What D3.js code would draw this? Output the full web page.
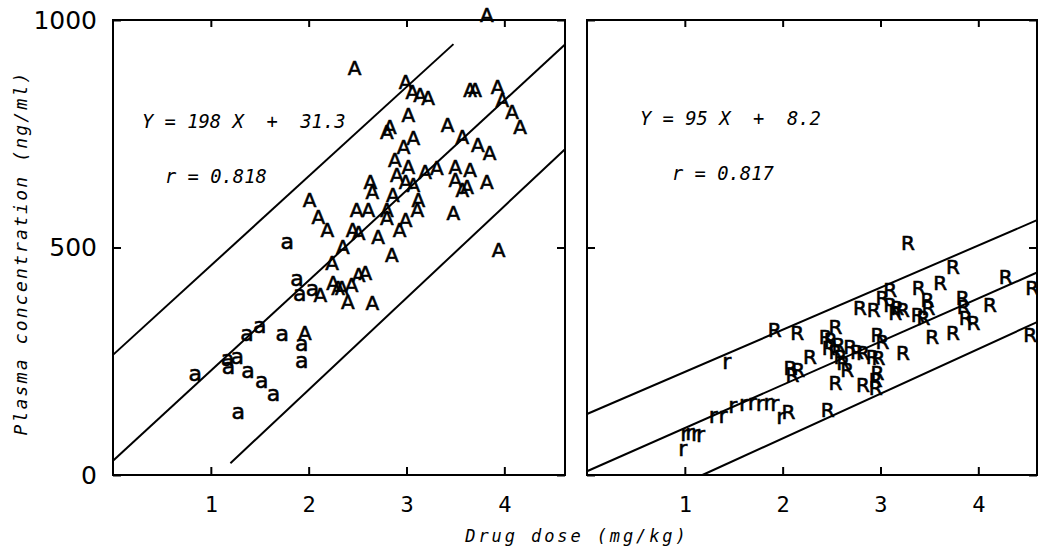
<!DOCTYPE html>
<html lang="en">
<head>
<meta charset="UTF-8">
<title>Plasma concentration vs drug dose</title>
<style>
    body { margin: 0; background: #fff; }
    svg { display: block; }
    .frame { fill: none; stroke: #000; stroke-width: 2; }
    .fit { fill: none; stroke: #000; stroke-width: 2; }
    .tick line { stroke: #000; stroke-width: 2; }
    .mono { font-family: "DejaVu Sans Mono", monospace; font-style: oblique; white-space: pre; }
    .mark { font-family: "DejaVu Sans", sans-serif; text-anchor: middle; stroke: #000; stroke-width: 0.6; }
</style>
</head>
<body>
<script src="https://d3js.org/d3.v7.min.js"></script>
<script>
    // ticks
    const xTicks = [1, 2, 3, 4];
    const yTicks = [0, 500, 1000];

    // left panel: upper case = A, lower case = a  [dose, concentration]
    const leftA = [
        [3.82, 1012], [2.47, 895], [2.99, 864], [3.06, 842], [3.14, 835], [3.22, 829],
        [3.65, 846], [3.70, 846], [3.93, 853], [3.98, 824], [4.08, 798], [4.16, 765],
        [3.02, 791], [3.42, 769], [2.83, 765], [2.80, 754], [3.07, 741], [2.97, 721],
        [3.57, 743], [3.73, 725], [3.85, 708], [2.88, 692], [3.02, 677], [2.90, 659],
        [2.99, 644], [3.07, 637], [3.19, 666], [3.31, 675], [3.50, 677], [3.65, 670],
        [3.50, 648], [3.57, 626], [3.62, 633], [3.82, 644], [2.63, 644], [2.65, 622],
        [2.49, 582], [2.61, 582], [2.80, 582], [2.80, 565], [2.86, 615], [3.12, 604],
        [3.11, 582], [2.99, 560], [2.93, 538], [2.45, 538], [2.51, 532], [2.35, 501],
        [2.71, 523], [3.48, 576], [2.85, 484], [3.94, 495], [2.24, 466], [2.51, 440],
        [2.58, 444], [2.01, 604], [2.10, 567], [2.19, 538], [2.25, 422], [2.30, 411],
        [2.34, 411], [2.44, 418], [2.12, 396], [2.40, 380], [2.65, 378], [1.96, 312]
    ];
    const leftLower = [
        [1.78, 510], [1.88, 429], [1.91, 396], [2.04, 407], [1.50, 325], [1.37, 308],
        [1.73, 308], [1.93, 286], [1.93, 248], [1.17, 253], [1.27, 257], [1.18, 235],
        [1.38, 226], [1.52, 204], [1.64, 176], [0.84, 220], [1.28, 136]
    ];

    // right panel: upper case = R, lower case = r
    const rightR = [
        [3.28, 510], [3.74, 457], [4.28, 435], [4.55, 411], [3.61, 422], [3.39, 411],
        [3.10, 407], [3.02, 389], [2.79, 367], [2.93, 363], [3.10, 374], [3.17, 367],
        [3.23, 363], [3.15, 356], [3.48, 385], [3.49, 367], [3.38, 352], [3.44, 345],
        [3.84, 389], [3.85, 369], [3.87, 345], [3.95, 334], [4.12, 374], [3.74, 312],
        [3.53, 303], [4.53, 308], [3.23, 268], [2.97, 308], [3.02, 292], [2.54, 325],
        [2.15, 312], [1.92, 319], [2.44, 303], [2.49, 297], [2.57, 286], [2.47, 279],
        [2.54, 270], [2.69, 281], [2.76, 270], [2.82, 268], [2.92, 259], [2.98, 257],
        [2.59, 259], [2.62, 246], [2.66, 231], [2.28, 259], [2.08, 235], [2.16, 231],
        [2.10, 220], [2.97, 224], [2.95, 209], [2.54, 202], [2.82, 198], [2.95, 191],
        [2.06, 138], [2.46, 143]
    ];
    const rightLower = [
        [1.43, 246], [1.98, 125], [1.49, 149], [1.60, 154], [1.69, 156], [1.77, 154],
        [1.85, 156], [1.92, 154], [1.29, 127], [1.39, 127], [1.00, 88], [1.05, 90],
        [1.11, 88], [1.16, 86], [0.98, 55]
    ];

    // regression line and band limits, end points
    const leftLines = [
        [[0, 264], [3.48, 947]],
        [[0, 31.3], [4.62, 946]],
        [[1.2, 26], [4.62, 716]]
    ];
    const rightLines = [
        [[0, 134], [4.6, 560]],
        [[0, 8.2], [4.6, 445]],
        [[1.18, 0], [4.6, 336]]
    ];

    const leftText = ["Y = 198 X  +  31.3", "r = 0.818"];
    const rightText = ["Y = 95 X  +  8.2", "r = 0.817"];

    const width = 1038, height = 549;
    const plotTop = 20, plotBottom = 475;

    const svg = d3.select("body").append("svg")
        .attr("width", width)
        .attr("height", height);

    const y = d3.scaleLinear().domain([0, 1000]).range([plotBottom, plotTop]);

    function panel(x, bigPts, bigChar, smallPts, smallChar, lines, txt, txtPos, showY) {
        const [x0, x1] = x.range();
        const g = svg.append("g");

        // ticks
        g.append("g")
            .attr("transform", "translate(0," + plotBottom + ")")
            .call(d3.axisBottom(x).tickValues(xTicks).tickSizeInner(-8).tickSizeOuter(0)
                .tickPadding(21).tickFormat(d3.format("d")))
            .call(a => a.select(".domain").remove())
            .selectAll("text")
            .attr("font-family", "DejaVu Sans Mono, monospace")
            .attr("font-size", 22)
            .attr("fill", "#000");

        g.append("g")
            .attr("transform", "translate(0," + plotTop + ")")
            .call(d3.axisTop(x).tickValues(xTicks).tickSizeInner(-7).tickSizeOuter(0).tickFormat(""))
            .call(a => a.select(".domain").remove());

        const yl = g.append("g")
            .attr("transform", "translate(" + x0 + ",0)")
            .call(d3.axisLeft(y).tickValues(yTicks).tickSizeInner(-8).tickSizeOuter(0)
                .tickPadding(16).tickFormat(showY ? d3.format("d") : ""))
            .call(a => a.select(".domain").remove());
        yl.selectAll("text")
            .attr("font-family", "DejaVu Sans, sans-serif")
            .attr("font-size", 25)
            .attr("fill", "#000");

        g.append("g")
            .attr("transform", "translate(" + x1 + ",0)")
            .call(d3.axisRight(y).tickValues(yTicks).tickSizeInner(-8).tickSizeOuter(0).tickFormat(""))
            .call(a => a.select(".domain").remove());

        g.append("rect")
            .attr("class", "frame")
            .attr("x", x0).attr("y", plotTop)
            .attr("width", x1 - x0).attr("height", plotBottom - plotTop);

        const line = d3.line().x(d => x(d[0])).y(d => y(d[1]));
        g.selectAll(".fit")
            .data(lines)
            .enter().append("path")
            .attr("class", "fit")
            .attr("d", line);

        g.selectAll(".big")
            .data(bigPts)
            .enter().append("text")
            .attr("class", "mark big")
            .attr("x", d => x(d[0]))
            .attr("y", d => y(d[1]) + 7)
            .attr("font-size", 20)
            .text(bigChar);

        g.selectAll(".small")
            .data(smallPts)
            .enter().append("text")
            .attr("class", "mark small")
            .attr("x", d => x(d[0]))
            .attr("y", d => y(d[1]) + 6)
            .attr("font-size", 22)
            .text(smallChar);

        g.selectAll(".eq")
            .data(txt)
            .enter().append("text")
            .attr("class", "mono eq")
            .attr("x", (d, i) => txtPos[i][0])
            .attr("y", (d, i) => txtPos[i][1])
            .attr("font-size", 18.8)
            .text(d => d);
    }

    const xLeft = d3.scaleLinear().domain([0, 4.62]).range([113, 565]);
    const xRight = d3.scaleLinear().domain([0, 4.6]).range([587, 1037]);

    panel(xLeft, leftA, "A", leftLower, "a", leftLines, leftText, [[142, 128], [165, 183]], true);
    panel(xRight, rightR, "R", rightLower, "r", rightLines, rightText, [[640, 125], [672, 180]], false);

    // axis titles
    svg.append("text")
        .attr("class", "mono")
        .attr("x", 577).attr("y", 542)
        .attr("text-anchor", "middle")
        .attr("font-size", 17)
        .attr("letter-spacing", 2.9)
        .text("Drug dose (mg/kg)");

    svg.append("text")
        .attr("class", "mono")
        .attr("transform", "translate(27,253) rotate(-90)")
        .attr("text-anchor", "middle")
        .attr("font-size", 18)
        .attr("letter-spacing", 2.2)
        .text("Plasma concentration (ng/ml)");
</script>
</body>
</html>
